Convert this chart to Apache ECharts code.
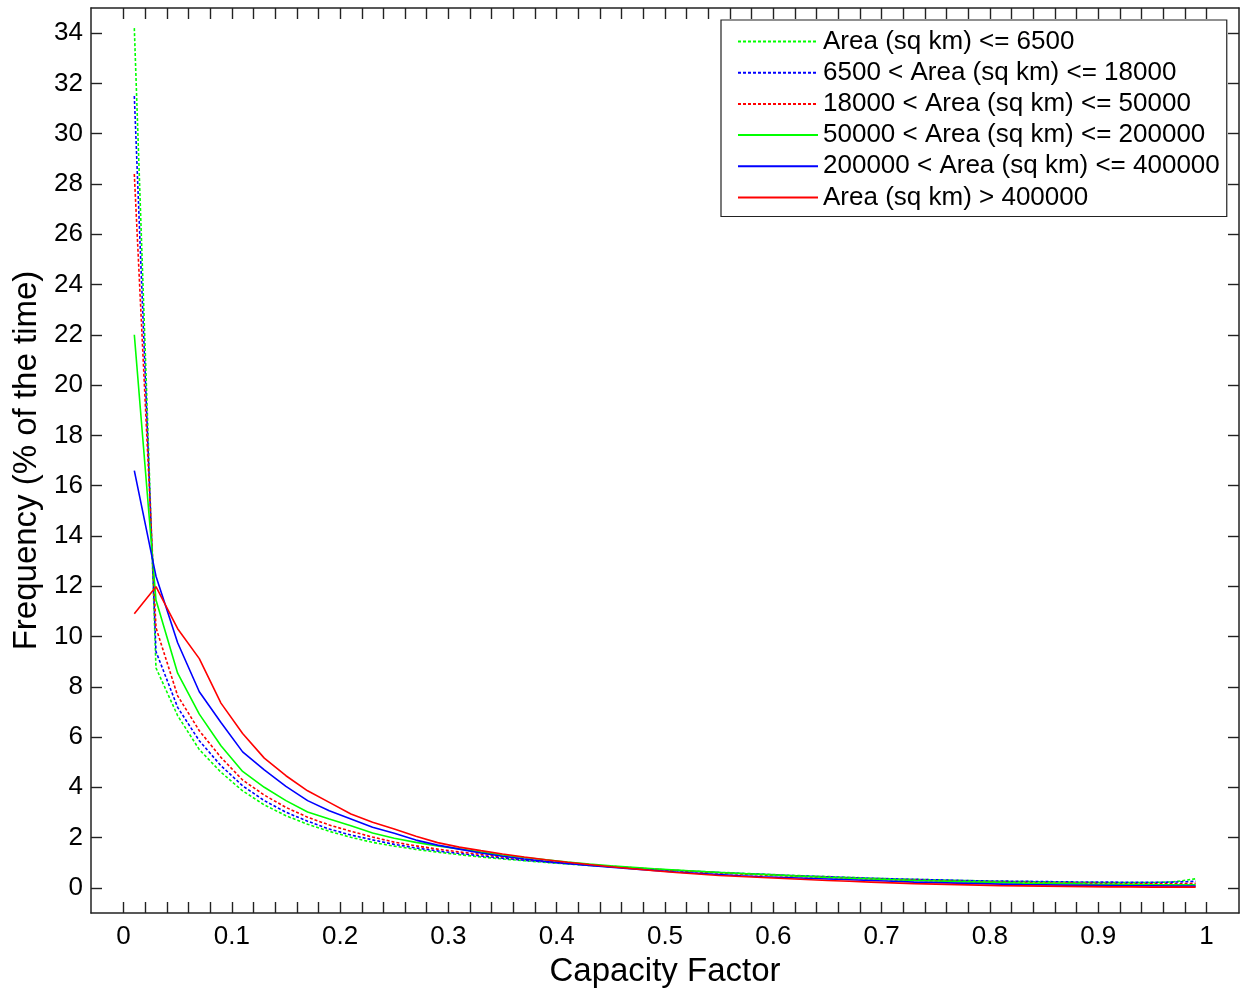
<!DOCTYPE html>
<html>
<head>
<meta charset="utf-8">
<script src="https://cdn.jsdelivr.net/npm/echarts@6/dist/echarts.min.js"></script>
<style>
  html, body { margin: 0; padding: 0; background: #fff; }
  #chart { width: 1243px; height: 1003px; }
</style>
</head>
<body>
<div id="chart"></div>
<script>
// Bin centres of the capacity-factor histogram (bins 0.02 wide)
const capacityFactor = [
  0.01, 0.03, 0.05, 0.07, 0.09, 0.11, 0.13, 0.15, 0.17, 0.19,
  0.21, 0.23, 0.25, 0.27, 0.29, 0.31, 0.33, 0.35, 0.37, 0.39,
  0.41, 0.43, 0.45, 0.47, 0.49, 0.51, 0.53, 0.55, 0.57, 0.59,
  0.61, 0.63, 0.65, 0.67, 0.69, 0.71, 0.73, 0.75, 0.77, 0.79,
  0.81, 0.83, 0.85, 0.87, 0.89, 0.91, 0.93, 0.95, 0.97, 0.99
];

// Frequency (% of the time) per area class
const areaUpTo6500 = [
  34.2, 8.75, 6.85, 5.5, 4.6, 3.86, 3.3, 2.87, 2.53, 2.25,
  2.01, 1.81, 1.66, 1.53, 1.42, 1.32, 1.23, 1.15, 1.08, 1.01,
  0.95, 0.89, 0.84, 0.79, 0.74, 0.70, 0.66, 0.62, 0.58, 0.55,
  0.51, 0.48, 0.45, 0.42, 0.39, 0.36, 0.34, 0.32, 0.30, 0.28,
  0.26, 0.25, 0.24, 0.23, 0.22, 0.21, 0.21, 0.21, 0.24, 0.36
];
const area6500to18000 = [
  31.5, 9.4, 7.18, 5.85, 4.86, 4.06, 3.47, 3.01, 2.65, 2.34,
  2.10, 1.91, 1.73, 1.59, 1.47, 1.37, 1.27, 1.18, 1.10, 1.03,
  0.96, 0.90, 0.84, 0.79, 0.74, 0.69, 0.65, 0.61, 0.57, 0.54,
  0.50, 0.47, 0.44, 0.41, 0.38, 0.36, 0.34, 0.32, 0.30, 0.28,
  0.27, 0.26, 0.25, 0.24, 0.23, 0.23, 0.22, 0.22, 0.23, 0.26
];
const area18000to50000 = [
  28.4, 10.35, 7.64, 6.25, 5.19, 4.29, 3.69, 3.2, 2.81, 2.5,
  2.25, 2.02, 1.82, 1.67, 1.54, 1.43, 1.33, 1.23, 1.14, 1.06,
  0.99, 0.92, 0.86, 0.80, 0.74, 0.69, 0.64, 0.59, 0.55, 0.51,
  0.48, 0.44, 0.41, 0.38, 0.35, 0.32, 0.30, 0.28, 0.26, 0.24,
  0.22, 0.21, 0.20, 0.19, 0.18, 0.17, 0.16, 0.16, 0.16, 0.18
];
const area50000to200000 = [
  22.0, 11.45, 8.54, 6.91, 5.65, 4.63, 4.0, 3.47, 3.02, 2.74,
  2.47, 2.18, 1.97, 1.81, 1.67, 1.55, 1.42, 1.31, 1.21, 1.12,
  1.03, 0.95, 0.88, 0.82, 0.76, 0.71, 0.66, 0.61, 0.57, 0.53,
  0.49, 0.45, 0.41, 0.38, 0.35, 0.32, 0.29, 0.27, 0.25, 0.23,
  0.21, 0.19, 0.18, 0.17, 0.15, 0.14, 0.13, 0.12, 0.12, 0.12
];
const area200000to400000 = [
  16.6, 12.4, 9.75, 7.8, 6.58, 5.41, 4.69, 4.04, 3.47, 3.07,
  2.74, 2.41, 2.17, 1.9, 1.7, 1.54, 1.39, 1.26, 1.15, 1.05,
  0.97, 0.89, 0.82, 0.75, 0.69, 0.63, 0.58, 0.53, 0.48, 0.44,
  0.41, 0.38, 0.35, 0.32, 0.29, 0.26, 0.23, 0.21, 0.19, 0.17,
  0.15, 0.13, 0.12, 0.11, 0.10, 0.09, 0.08, 0.08, 0.07, 0.07
];
const areaOver400000 = [
  10.9, 11.98, 10.31, 9.12, 7.35, 6.14, 5.16, 4.46, 3.86, 3.4,
  2.94, 2.61, 2.34, 2.05, 1.8, 1.62, 1.48, 1.35, 1.23, 1.12,
  1.02, 0.93, 0.84, 0.76, 0.68, 0.61, 0.55, 0.49, 0.45, 0.41,
  0.37, 0.33, 0.29, 0.26, 0.23, 0.20, 0.17, 0.15, 0.13, 0.11,
  0.09, 0.08, 0.07, 0.06, 0.05, 0.04, 0.04, 0.03, 0.03, 0.03
];

const seriesNames = [
  'Area (sq km) <= 6500',
  '6500 < Area (sq km) <= 18000',
  '18000 < Area (sq km) <= 50000',
  '50000 < Area (sq km) <= 200000',
  '200000 < Area (sq km) <= 400000',
  'Area (sq km) > 400000'
];

// Tick positions and labels
const xTickValues = [
  0, 0.02, 0.04, 0.06, 0.08, 0.1, 0.12, 0.14, 0.16, 0.18, 0.2,
  0.22, 0.24, 0.26, 0.28, 0.3, 0.32, 0.34, 0.36, 0.38, 0.4,
  0.42, 0.44, 0.46, 0.48, 0.5, 0.52, 0.54, 0.56, 0.58, 0.6,
  0.62, 0.64, 0.66, 0.68, 0.7, 0.72, 0.74, 0.76, 0.78, 0.8,
  0.82, 0.84, 0.86, 0.88, 0.9, 0.92, 0.94, 0.96, 0.98, 1
];
const xLabelValues = [0, 0.1, 0.2, 0.3, 0.4, 0.5, 0.6, 0.7, 0.8, 0.9, 1];
const yTickValues = [0, 2, 4, 6, 8, 10, 12, 14, 16, 18, 20, 22, 24, 26, 28, 30, 32, 34];

const FONT = '"Liberation Sans", Arial, sans-serif';
const frameColor = '#222';

const seriesData = [areaUpTo6500, area6500to18000, area18000to50000,
                    area50000to200000, area200000to400000, areaOver400000];
const seriesColors = ['#00ff00', '#0000ff', '#ff0000', '#00ff00', '#0000ff', '#ff0000'];
const seriesDashed = [true, true, true, false, false, false];

function xAxisDef(position, showLabels) {
  return {
    type: 'value',
    position: position,
    min: -0.03,
    max: 1.03,
    name: showLabels ? 'Capacity Factor' : '',
    nameLocation: 'middle',
    nameGap: 42,
    nameTextStyle: { fontFamily: FONT, fontSize: 33, color: '#000' },
    axisLine: { show: true, onZero: false, lineStyle: { color: frameColor, width: 1.5 } },
    axisTick: { show: true, inside: true, length: 11, customValues: xTickValues,
                lineStyle: { color: frameColor, width: 1.4 } },
    axisLabel: { show: showLabels, customValues: xLabelValues, margin: 11,
                 fontFamily: FONT, fontSize: 26, color: '#000' },
    splitLine: { show: false }
  };
}

function yAxisDef(position, showLabels) {
  return {
    type: 'value',
    position: position,
    min: -1,
    max: 35,
    name: showLabels ? 'Frequency (% of the time)' : '',
    nameLocation: 'middle',
    nameGap: 47,
    nameTextStyle: { fontFamily: FONT, fontSize: 33, color: '#000' },
    axisLine: { show: true, onZero: false, lineStyle: { color: frameColor, width: 1.5 } },
    axisTick: { show: true, inside: true, length: 11, customValues: yTickValues,
                lineStyle: { color: frameColor, width: 1.4 } },
    axisLabel: { show: showLabels, customValues: yTickValues, margin: 8,
                 fontFamily: FONT, fontSize: 26, color: '#000' },
    splitLine: { show: false }
  };
}

const chart = echarts.init(document.getElementById('chart'), null, { renderer: 'canvas' });

chart.setOption({
  animation: false,
  backgroundColor: '#fff',
  grid: { left: 91, right: 4, top: 8, bottom: 90, containLabel: false },
  xAxis: [xAxisDef('bottom', true), xAxisDef('top', false)],
  yAxis: [yAxisDef('left', true), yAxisDef('right', false)],
  legend: {
    orient: 'vertical',
    left: 721,
    top: 20,
    padding: [7.5, 7, 5, 16],
    itemWidth: 80,
    itemHeight: 14,
    itemGap: 3.2,
    backgroundColor: '#fff',
    borderColor: frameColor,
    borderWidth: 1.2,
    borderRadius: 0,
    // legend keys show only the line sample, no marker
    itemStyle: { opacity: 0 },
    textStyle: { fontFamily: FONT, fontSize: 26, color: '#000', lineHeight: 28 },
    data: seriesNames
  },
  series: seriesNames.map((name, i) => ({
    name: name,
    type: 'line',
    xAxisIndex: 0,
    yAxisIndex: 0,
    symbol: 'none',
    smooth: false,
    color: seriesColors[i],
    lineStyle: {
      color: seriesColors[i],
      width: 1.6,
      type: seriesDashed[i] ? [3, 2] : 'solid'
    },
    data: capacityFactor.map((x, k) => [x, seriesData[i][k]])
  }))
});
</script>
</body>
</html>
